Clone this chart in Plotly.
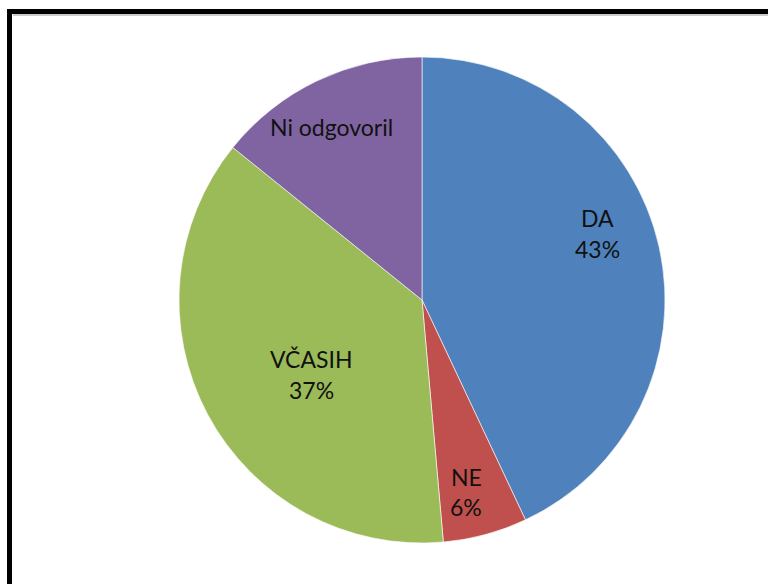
import plotly.graph_objects as go

categories = ["DA", "NE", "VČASIH", "Ni odgovoril"]
values = [43.0, 5.6, 37.2, 14.2]
colors = ["#4F81BD", "#C0504D", "#9BBB59", "#8064A2"]
show_percent = [True, True, True, False]

# label anchor positions (pixels in 768x584 canvas)
label_pos = [(597, 233), (466, 492), (311, 374), (331, 127)]

W, H = 768, 584
cx, cy, r = 422, 300, 243

fig = go.Figure(go.Pie(
    labels=categories,
    values=values,
    sort=False,
    direction="clockwise",
    rotation=0,
    marker=dict(colors=colors, line=dict(color="white", width=0.6)),
    textinfo="none",
    hoverinfo="label+percent",
    showlegend=False,
    domain=dict(x=[(cx - r) / W, (cx + r) / W], y=[1 - (cy + r) / H, 1 - (cy - r) / H]),
))

total = sum(values)
annotations = []
font = dict(family="Lato, Carlito, Calibri, sans-serif", size=23, color="#111111")
for cat, v, sp, (px, py) in zip(categories, values, show_percent, label_pos):
    if sp:
        annotations.append(dict(x=px / W, y=1 - (py - 15.5) / H, xref="paper", yref="paper",
                                text=cat, showarrow=False, font=font, xanchor="center", yanchor="middle"))
        annotations.append(dict(x=px / W, y=1 - (py + 15.5) / H, xref="paper", yref="paper",
                                text=f"{round(v / total * 100)}%", showarrow=False, font=font,
                                xanchor="center", yanchor="middle"))
    else:
        annotations.append(dict(x=px / W, y=1 - py / H, xref="paper", yref="paper",
                                text=cat, showarrow=False, font=font, xanchor="center", yanchor="middle"))

shapes = [
    # frame shadow
    dict(type="line", xref="paper", yref="paper", x0=13 / W, x1=1.0, y0=1 - 15 / H, y1=1 - 15 / H,
         line=dict(color="#BBBBBB", width=1.5)),
    # frame
    dict(type="line", xref="paper", yref="paper", x0=7 / W, x1=1.0, y0=1 - 11.5 / H, y1=1 - 11.5 / H,
         line=dict(color="black", width=5)),
    dict(type="line", xref="paper", yref="paper", x0=9.5 / W, x1=9.5 / W, y0=1 - 9 / H, y1=0.0,
         line=dict(color="black", width=5)),
]

fig.update_layout(
    width=W, height=H,
    margin=dict(l=0, r=0, t=0, b=0),
    paper_bgcolor="white",
    plot_bgcolor="white",
    annotations=annotations,
    shapes=shapes,
)

fig.write_html(
    "out.html",
    config={"displayModeBar": False},
    post_script="document.body.style.margin='0';document.body.style.overflow='hidden';",
)
